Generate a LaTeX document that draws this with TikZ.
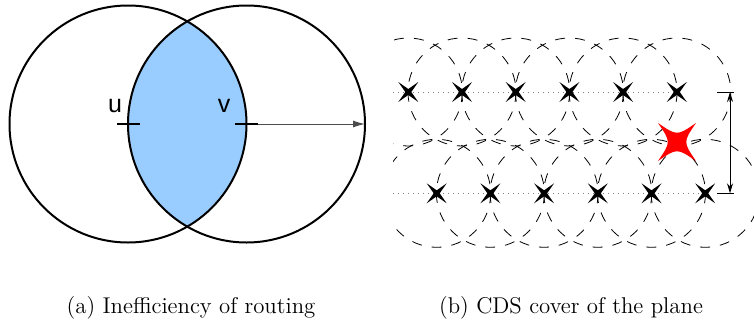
\documentclass[tikz,border=0pt]{standalone}
\usepackage{fontspec}
\usepackage{tikz}
\usetikzlibrary{arrows.meta}
\newfontfamily\labelfont{Liberation Sans}

\tikzset{
	disk/.style={line width=1pt},
	tickmark/.style={line width=1pt},
	cover/.style={line width=0.4pt, dash pattern=on 5pt off 5pt},
	rowline/.style={gray, dotted, line width=0.5pt},
	caption/.style={anchor=base, font=\fontsize{11.4}{13.7}\selectfont},
	pics/spark/.style 2 args={code={
		\fill (-#1,-#1) .. controls (0,-#2) .. (#1,-#1) .. controls (#2,0) .. (#1,#1)
			.. controls (0,#2) .. (-#1,#1) .. controls (-#2,0) .. (-#1,-#1) -- cycle;
	}},
	pics/cdsmark/.style={code={
		\fill (-10,-10) -- (0,-3) -- (10,-10) -- (3,0) -- (10,10) -- (0,3) -- (-10,10) -- (-3,0) -- cycle;
	}}
}

\begin{document}
\begin{tikzpicture}[x=0.5pt, y=-0.5pt]
	\useasboundingbox (0,0) rectangle (754,322);
	\begin{scope}
		\clip (128,124) circle[radius=118.5];
		\fill[fill={rgb,255:red,153;green,204;blue,255}] (246.5,124) circle[radius=118.5];
	\end{scope}
	\draw[disk] (128,124) circle[radius=118.5];
	\draw[disk] (246.5,124) circle[radius=118.5];
	\coordinate (u) at (128,124);
	\coordinate (v) at (246.5,124);
	\coordinate (reach) at (365,124);
	\draw[tickmark] (117,124) -- (140,124);
	\draw[tickmark] (235,124) -- (258,124) coordinate (vend);
	\draw[gray!60!black, line width=0.5pt, -{Latex[length=6pt, width=3.5pt]}] (vend) -- (reach);
	\node[font=\labelfont\fontsize{12.5}{14}\selectfont] (ulabel) at (115,106) {u};
	\node[font=\labelfont\fontsize{12.5}{14}\selectfont] (vlabel) at (224,106) {v};

	\begin{scope}
		\clip (393,0) rectangle (754,322);
		\foreach \i in {0,...,5} {
			\draw[cover] (408.3+53.7*\i,92) circle[radius=54];
			\draw[cover] (436.7+53.7*\i,193.3) circle[radius=54];
		}
	\end{scope}
	\draw[rowline] (393,92) -- (677,92);
	\draw[rowline] (393,193.3) -- (705,193.3);
	\foreach \i in {0,...,5} {
		\coordinate (top\i) at (408.3+53.7*\i,92);
		\coordinate (bot\i) at (436.7+53.7*\i,193.3);
		\pic at (top\i) {cdsmark};
		\pic at (bot\i) {cdsmark};
	}
	\coordinate (gap) at (677,142);
	\pic[red] at (gap) {spark={19}{6}};
	\coordinate (uptick) at (730,92);
	\coordinate (lowtick) at (730,193.3);
	\draw[line width=0.5pt] (717,92) -- (734,92);
	\draw[line width=0.5pt] (717,193.3) -- (734,193.3);
	\draw[line width=0.5pt, {Stealth[length=5pt, width=3pt]}-{Stealth[length=5pt, width=3pt]}] (uptick) -- (lowtick);

	\node[caption] (capa) at (191,313) {(a) Inefficiency of routing};
	\node[caption] (capb) at (571,313) {(b) CDS cover of the plane};
\end{tikzpicture}
\end{document}
